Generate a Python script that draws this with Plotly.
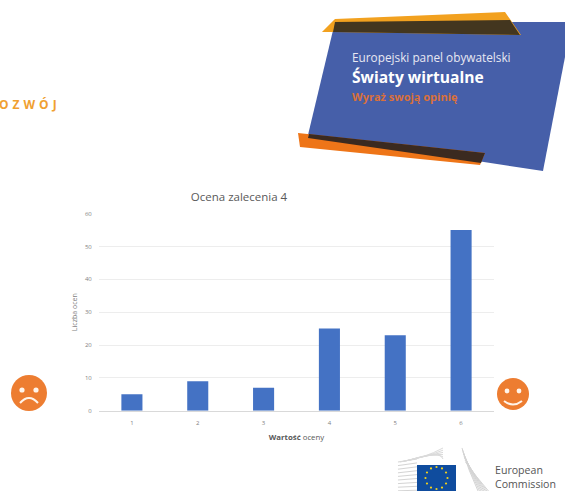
import math
import plotly.graph_objects as go

W, H = 565, 491
categories = ["1", "2", "3", "4", "5", "6"]
ratings = [5, 9, 7, 25, 23, 55]
y_ticks = [0, 10, 20, 30, 40, 50, 60]
chart_title = "Ocena zalecenia 4"
x_title = "<b>Wartość</b> oceny"
y_title = "Liczba ocen"

BLUE = "#4472C4"
ORANGE = "#ED7D31"
GREY = "#7F7F7F"


def px(x):
    return x / W


def py(y):
    return 1 - y / H


def poly(points, fill):
    d = "M" + " L".join(f"{px(x):.5f},{py(y):.5f}" for x, y in points) + " Z"
    return dict(type="path", xref="paper", yref="paper", path=d,
                fillcolor=fill, line=dict(width=0), layer="above")


def stroke(points, color, width, curve=False):
    pts = [f"{px(x):.5f},{py(y):.5f}" for x, y in points]
    d = f"M{pts[0]} Q{pts[1]} {pts[2]}" if curve else "M" + " L".join(pts)
    return dict(type="path", xref="paper", yref="paper", path=d,
                line=dict(color=color, width=width), layer="above")


def circle(cx, cy, r, fill):
    return dict(type="circle", xref="paper", yref="paper",
                x0=px(cx - r), x1=px(cx + r), y0=py(cy + r), y1=py(cy - r),
                fillcolor=fill, line=dict(width=0), layer="above")


shapes = [
    # banner
    poly([(335, 22), (565, 22), (565, 57), (543, 171), (308, 135)], "#465FA9"),
    poly([(322, 32), (335, 19), (505, 12), (521, 35), (333, 32)], "#F2A11F"),
    poly([(335, 22), (510, 20), (520, 35), (333, 32)], "#43361F"),
    poly([(298, 133), (300, 147), (480, 165), (485, 153)], "#EE7518"),
    poly([(309, 134), (485, 153), (481, 163), (308, 138)], "#3B2A20"),
    # sad face
    circle(29, 393, 18, ORANGE),
    circle(22, 390, 2.6, "#FFF4EA"),
    circle(36, 390, 2.6, "#FFF4EA"),
    stroke([(20, 403), (29, 393), (38, 403)], "#FFF4EA", 2, curve=True),
    # happy face
    circle(513, 394, 16, ORANGE),
    circle(507, 391, 2.4, "#FFF4EA"),
    circle(519, 391, 2.4, "#FFF4EA"),
    stroke([(504, 401), (513, 408), (522, 401)], "#FFF4EA", 2, curve=True),
]

# Commission logo: building wings
for i in range(9):
    y = 462 + i * 3.6
    shapes.append(stroke([(398, y), (417, y - 3 + i * 0.3)], "#D4D4D4", 1))
for i in range(6):
    shapes.append(stroke([(400 + i * 2, 462 - i * 0.4), (425 + i * 3, 458 - i * 1.6),
                          (443, 448 + i * 2.2)], "#DADADA", 1, curve=True))
for i in range(8):
    shapes.append(stroke([(462 + i * 0.5, 448 + i * 2), (468 + i * 1.2, 470 + i),
                          (478 + i * 1.5, 491)], "#D4D4D4", 1, curve=True))

# Commission logo: flag
shapes.append(poly([(417, 465), (456, 465), (456, 491), (417, 491)], "#0F4C9E"))
for k in range(12):
    a = 2 * math.pi * k / 12
    shapes.append(circle(436.5 + 11 * math.cos(a), 478 + 11 * math.sin(a), 1.1, "#F3D21B"))


def label(text, x, y, size, color, font="Open Sans", xanchor="left"):
    return dict(text=text, x=px(x), y=py(y), xref="paper", yref="paper",
                xanchor=xanchor, yanchor="middle", showarrow=False, align="left",
                font=dict(family=font, size=size, color=color))


annotations = [
    label("Europejski panel obywatelski", 350, 57, 11.8, "#E8E8F2"),
    label("<b>Światy wirtualne</b>", 350, 77, 15.6, "#FFFFFF"),
    label("<b>Wyraż swoją opinię</b>", 350, 96, 11, "#D9703A"),
    label("<b>O\u2004Z\u2004W\u2004Ó\u2004J</b>", -3, 105, 12, "#F0A030"),
    label("European<br>Commission", 493, 477, 10.6, "#555555"),
]

fig = go.Figure(go.Bar(x=categories, y=ratings, marker=dict(color=BLUE, line=dict(width=0)),
                       width=0.32))

fig.update_layout(
    width=W, height=H, margin=dict(l=0, r=0, t=0, b=0, autoexpand=False),
    paper_bgcolor="white", plot_bgcolor="white", showlegend=False,
    font=dict(family="Open Sans", color=GREY),
    title=dict(text=chart_title, x=239 / W, xanchor="center", y=py(197), yanchor="middle",
               font=dict(size=11.5, color="#595959")),
    xaxis=dict(domain=[99 / W, 494 / W], type="category", range=[-0.5, 5.5],
               showgrid=False, showline=True, linecolor="#D9D9D9", linewidth=1,
               ticks="outside", ticklen=6, tickcolor="rgba(0,0,0,0)",
               tickfont=dict(size=6, color=GREY),
               title=dict(text=x_title, standoff=8, font=dict(size=7.8, color="#595959"))),
    yaxis=dict(domain=[(H - 410.7) / H, (H - 213.7) / H], range=[0, 60],
               tickvals=y_ticks, showgrid=True, gridcolor="#EDEDED", gridwidth=1,
               zeroline=False, showline=False,
               ticks="outside", ticklen=5, tickcolor="rgba(0,0,0,0)",
               tickfont=dict(size=6, color=GREY),
               title=dict(text=y_title, standoff=6, font=dict(size=7, color=GREY))),
    shapes=shapes, annotations=annotations,
)

fig.write_html("out.html", config=dict(displayModeBar=False),
               post_script="document.body.style.margin='0';document.body.style.overflow='hidden';")
